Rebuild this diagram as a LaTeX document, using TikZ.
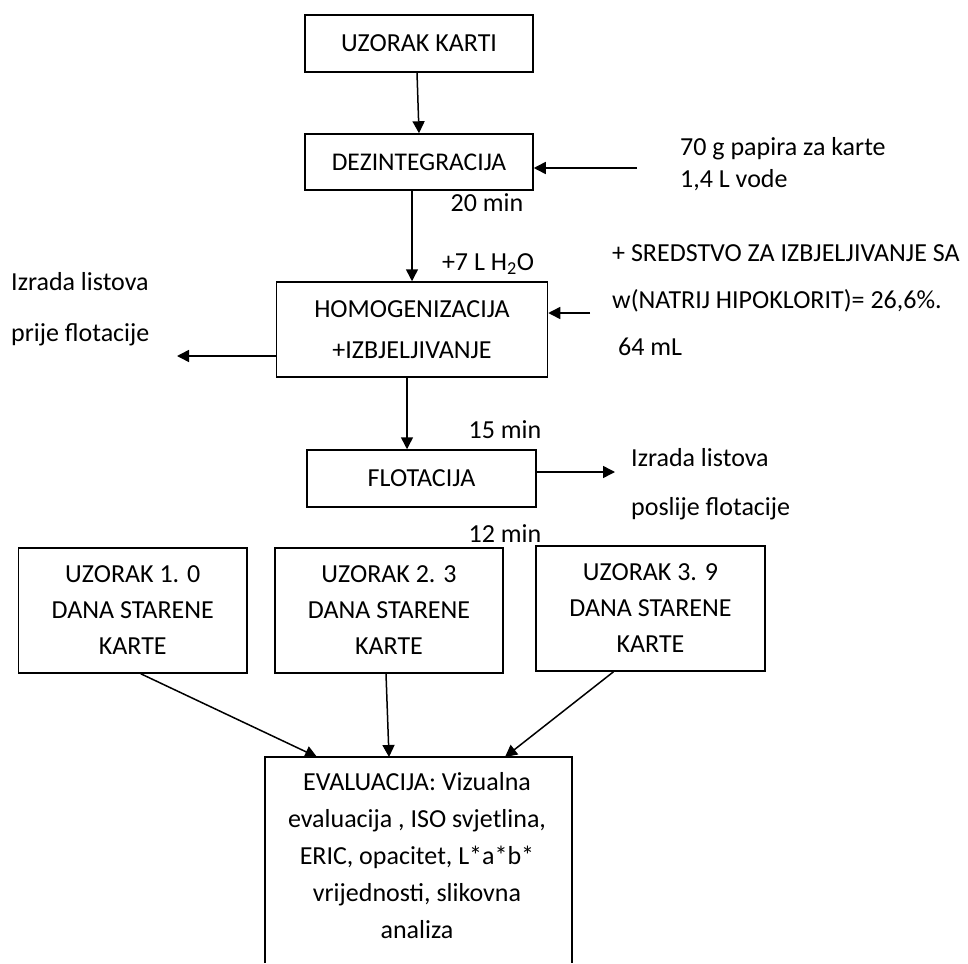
\documentclass[tikz,border=0pt]{standalone}
\usepackage{fontspec}
\setmainfont{Carlito}
\usetikzlibrary{arrows.meta,calc}
\begin{document}
\begin{tikzpicture}[x=1pt,y=-1pt,
  box/.style={draw,line width=1.5pt,inner sep=0pt,align=center,font=\fontsize{26}{36}\selectfont},
  lbl/.style={inner sep=0pt,align=left,font=\fontsize{26}{36}\selectfont},
  arr/.style={line width=1.5pt,-{Triangle[length=12pt,width=12pt]}},
  ln/.style={line width=1.5pt}]
\useasboundingbox (0,0) rectangle (968,963);
% boxes
\node[box,minimum width=228pt,minimum height=57pt,font=\fontsize{26}{30}\selectfont] (k) at (419,43.5) {UZORAK KARTI};
\node[box,minimum width=228pt,minimum height=56pt,font=\fontsize{25.5}{30}\selectfont] (dez) at (419,162) {DEZINTEGRACIJA};
\node[box,minimum width=271pt,minimum height=95pt,font=\fontsize{26}{41}\selectfont] (homo) at (412,329.5) {HOMOGENIZACIJA\\+IZBJELJIVANJE};
\node[box,minimum width=229pt,minimum height=57pt] (flot) at (421.5,478.5) {FLOTACIJA};
\node[box,minimum width=228.5pt,minimum height=125pt] (s1) at (132.75,610.5) {UZORAK 1. 0\\DANA STARENE\\KARTE};
\node[box,minimum width=228pt,minimum height=125pt] (s2) at (389,610.5) {UZORAK 2. 3\\DANA STARENE\\KARTE};
\node[box,minimum width=229pt,minimum height=125pt] (s3) at (650.5,608.5) {UZORAK 3. 9\\DANA STARENE\\KARTE};
% evaluation box (open at the bottom)
\coordinate (evbl) at (265,963);
\coordinate (evtl) at (265,757);
\coordinate (evtr) at (572,757);
\coordinate (evbr) at (572,963);
\draw[ln] (evbl) -- (evtl) -- (evtr) -- (evbr);
\node[inner sep=0pt,align=center,font=\fontsize{26}{37}\selectfont,anchor=center] (ev) at (417,856)
  {EVALUACIJA: Vizualna\\evaluacija , ISO svjetlina,\\ERIC, opacitet, L*a*b*\\vrijednosti, slikovna\\analiza};
% labels
\node[lbl,anchor=west,font=\fontsize{26}{32}\selectfont] (in1t) at (680,164) {70 g papira za karte\\1,4 L vode};
\node[lbl,anchor=center] (t20) at (487,203) {20 min};
\node[lbl,anchor=center] (th2o) at (488,264) {+7 L H\textsubscript{2}O};
\node[lbl,anchor=west,font=\fontsize{26}{47}\selectfont] (in2t) at (612,300) {+ SREDSTVO ZA IZBJELJIVANJE SA\\w(NATRIJ HIPOKLORIT)= 26,6\%.\\\ 64 mL};
\node[lbl,anchor=west,font=\fontsize{26}{51}\selectfont] (out1t) at (11,309.5) {Izrada listova\\prije flotacije};
\node[lbl,anchor=center] (t15) at (505,430) {15 min};
\node[lbl,anchor=center] (t12) at (505,534) {12 min};
\node[lbl,anchor=west,font=\fontsize{26}{49}\selectfont] (out2t) at (631,484.5) {Izrada listova\\poslije flotacije};
% connector ends
\coordinate (in1) at (637,168);
\coordinate (in2) at (590,313);
\coordinate (out1) at (177,356);
\coordinate (out2) at (615,472);
% connectors
\draw[arr] ($(k.south)+(-2,0)$) -- (dez.north);
\draw[arr] (in1) -- (dez.east |- in1);
\draw[arr] (dez.south -| homo.north) -- (homo.north);
\draw[arr] (in2) -- (homo.east |- in2);
\draw[arr] (homo.west |- out1) -- (out1);
\draw[arr] ($(homo.south)+(-5,0)$) -- ($(flot.north)+(-14.5,0)$);
\draw[arr] (flot.east |- out2) -- (out2);
\draw[arr] ($(s1.south)+(8,0)$) -- ($(evtl)+(52,0)$);
\draw[arr] ($(s2.south)+(-3,0)$) -- ($(evtl)+(124,0)$);
\draw[arr] ($(s3.south)+(-37,0)$) -- ($(evtl)+(240,0)$);
\end{tikzpicture}
\end{document}
